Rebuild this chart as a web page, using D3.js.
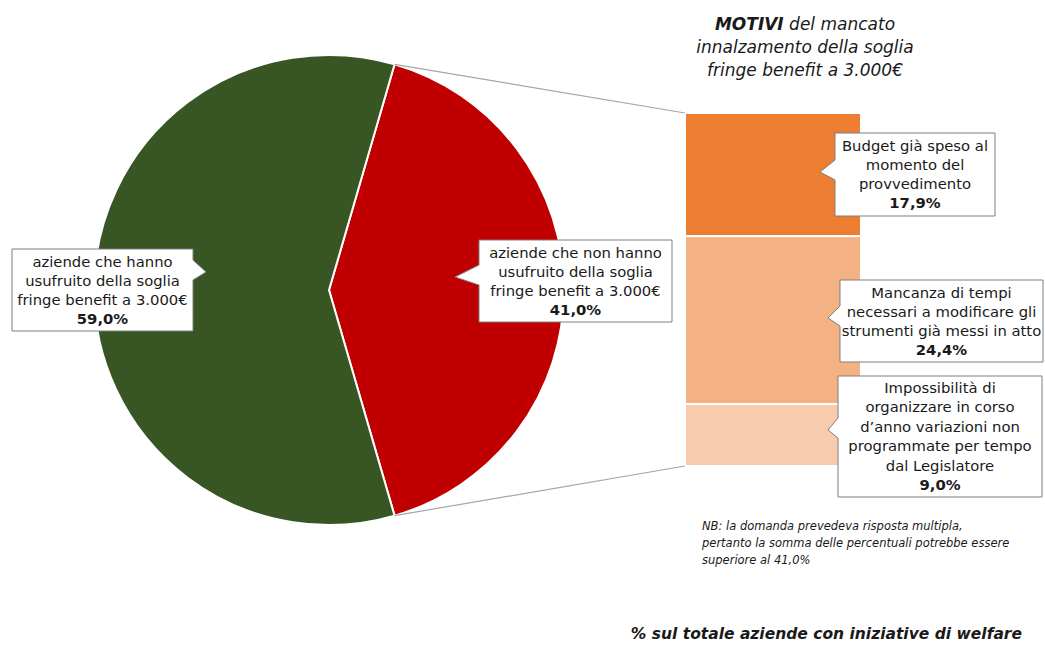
<!DOCTYPE html>
<html>
<head>
<meta charset="utf-8">
<script src="https://cdn.jsdelivr.net/npm/d3@7"></script>
<style>
  html, body { margin: 0; padding: 0; background: #fff; }
  svg { display: block; font-family: "DejaVu Sans", sans-serif; }
</style>
</head>
<body>
<svg id="chart" width="1045" height="645"></svg>
<script>
// Pie: share of companies by whether they used the 3.000€ fringe benefit threshold
const pieLabels = [
  ["aziende che non hanno", "usufruito della soglia", "fringe benefit a 3.000€"],
  ["aziende che hanno", "usufruito della soglia", "fringe benefit a 3.000€"]
];
const pieValues = [41.0, 59.0];
const pieColors = ["#C00000", "#375623"];

// Bar: reasons for not using the raised threshold
const reasonLabels = [
  ["Budget già speso al", "momento del", "provvedimento"],
  ["Mancanza di tempi", "necessari a modificare gli", "strumenti già messi in atto"],
  ["Impossibilità di", "organizzare in corso", "d’anno variazioni non", "programmate per tempo", "dal Legislatore"]
];
const reasonValues = [17.9, 24.4, 9.0];
const reasonColors = ["#ED7D31", "#F4B183", "#F8CBAD"];

const fmt = v => d3.format(".1f")(v).replace(".", ",") + "%";

const svg = d3.select("#chart");
const cx = 329, cy = 290, R = 235;

// slice that is broken out sits centred on the right side
const redSpan = pieValues[0] / d3.sum(pieValues) * 2 * Math.PI;
const start = Math.PI / 2 - redSpan / 2;
const pie = d3.pie().sort(null).startAngle(start).endAngle(start + 2 * Math.PI);
const arcs = pie(pieValues);
const arc = d3.arc().innerRadius(0).outerRadius(R);

const gPie = svg.append("g").attr("transform", `translate(${cx},${cy})`);
gPie.selectAll("path").data(arcs).join("path")
  .attr("d", arc)
  .attr("fill", (d, i) => pieColors[i])
  .attr("stroke", "#fff")
  .attr("stroke-width", 2)
  .attr("stroke-linejoin", "round");

// stacked bar
const barX0 = 685, barX1 = 861;
const y = d3.scaleLinear().domain([0, d3.sum(reasonValues)]).range([113, 466]);
const cum = d3.cumsum(reasonValues);
const segs = reasonValues.map((v, i) => ({ v, y0: cum[i] - v, y1: cum[i], i }));
svg.append("g").selectAll("rect").data(segs).join("rect")
  .attr("x", barX0)
  .attr("width", barX1 - barX0)
  .attr("y", d => y(d.y0))
  .attr("height", d => y(d.y1) - y(d.y0))
  .attr("fill", d => reasonColors[d.i])
  .attr("stroke", "#fff")
  .attr("stroke-width", 2);

// connector lines from the broken-out slice to the bar
const pt = a => [cx + R * Math.sin(a), cy - R * Math.cos(a)];
const pTop = pt(arcs[0].startAngle), pBot = pt(arcs[0].endAngle);
svg.append("line").attr("x1", pTop[0]).attr("y1", pTop[1]).attr("x2", barX0).attr("y2", y(0))
  .attr("stroke", "#A6A6A6").attr("stroke-width", 1.2);
svg.append("line").attr("x1", pBot[0]).attr("y1", pBot[1]).attr("x2", barX0).attr("y2", y(d3.sum(reasonValues)))
  .attr("stroke", "#A6A6A6").attr("stroke-width", 1.2);

// callout boxes with a pointer
function callout(box, side, tip, lines, value, lh) {
  const { x0, y0, x1, y1 } = box;
  const [tx, ty] = tip;
  const by1 = ty - 12, by2 = ty + 8;
  let d;
  if (side === "left") {
    d = `M${x0},${y0}H${x1}V${y1}H${x0}V${by2}L${tx},${ty}L${x0},${by1}Z`;
  } else {
    d = `M${x0},${y0}H${x1}V${by1}L${tx},${ty}L${x1},${by2}V${y1}H${x0}Z`;
  }
  svg.append("path").attr("d", d).attr("fill", "#fff").attr("stroke", "#7F7F7F").attr("stroke-width", 1);
  const mid = (x0 + x1) / 2;
  const n = lines.length + 1;
  const firstBase = (y0 + y1) / 2 - (n - 1) * lh / 2 + 5;
  const t = svg.append("text").attr("text-anchor", "middle").attr("fill", "#1A1A1A").attr("font-size", 14.8);
  lines.forEach((l, i) => t.append("tspan").attr("x", mid).attr("y", firstBase + i * lh).text(l));
  t.append("tspan").attr("x", mid).attr("y", firstBase + lines.length * lh).attr("font-weight", "bold").text(fmt(value));
}

callout({ x0: 12, y0: 249, x1: 193, y1: 331 }, "right", [206, 272], pieLabels[1], pieValues[1], 19);
callout({ x0: 479, y0: 240, x1: 672, y1: 322 }, "left", [455, 277], pieLabels[0], pieValues[0], 19);
callout({ x0: 835, y0: 133, x1: 995, y1: 216 }, "left", [820, 172], reasonLabels[0], reasonValues[0], 19);
callout({ x0: 840, y0: 280, x1: 1043, y1: 362 }, "left", [828, 318], reasonLabels[1], reasonValues[1], 19);
callout({ x0: 838, y0: 376, x1: 1042, y1: 497 }, "left", [828, 430], reasonLabels[2], reasonValues[2], 19.5);

// title above the bar
const title = svg.append("text").attr("text-anchor", "middle").attr("font-style", "italic")
  .attr("font-size", 17).attr("fill", "#1A1A1A");
const t1 = title.append("tspan").attr("x", 805).attr("y", 30);
t1.append("tspan").attr("font-weight", "bold").text("MOTIVI");
t1.append("tspan").text(" del mancato");
title.append("tspan").attr("x", 805).attr("y", 53).text("innalzamento della soglia");
title.append("tspan").attr("x", 805).attr("y", 76).text("fringe benefit a 3.000€");

// footnote
const nb = svg.append("text").attr("font-style", "italic").attr("font-size", 11.5).attr("fill", "#1A1A1A");
["NB: la domanda prevedeva risposta multipla,",
 "pertanto la somma delle percentuali potrebbe essere",
 "superiore al 41,0%"].forEach((l, i) => nb.append("tspan").attr("x", 702).attr("y", 530 + i * 17).text(l));

// unit note
svg.append("text").attr("x", 1022).attr("y", 639).attr("text-anchor", "end")
  .attr("font-style", "italic").attr("font-weight", "bold").attr("font-size", 15.5).attr("fill", "#1A1A1A")
  .text("% sul totale aziende con iniziative di welfare");
</script>
</body>
</html>
